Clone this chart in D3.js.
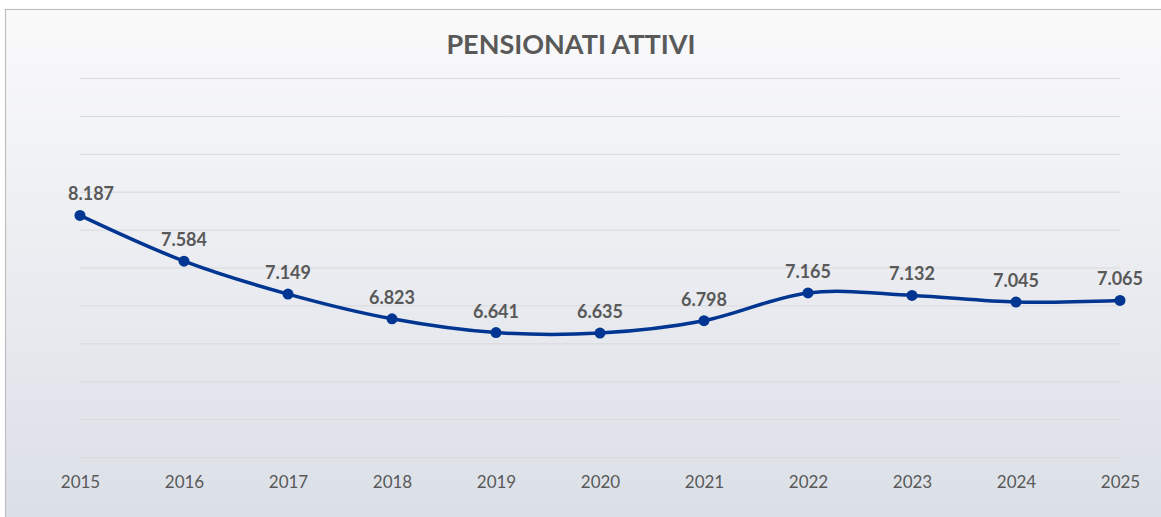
<!DOCTYPE html>
<meta charset="utf-8" />
<script src="https://d3js.org/d3.v7.min.js"></script>
<style>
  html, body { margin: 0; padding: 0; background: #fff; overflow: hidden; }
  .grid line { stroke: #d9d9d9; stroke-width: 1; }
  .grid path { display: none; }
  .xaxis path, .xaxis line { display: none; }
  .xaxis text { font-family: Lato, "Open Sans", sans-serif; font-size: 17px; fill: #595959; }
</style>
<div id="chart"></div>
<script>
  // data
  var years = ["2015", "2016", "2017", "2018", "2019", "2020", "2021", "2022", "2023", "2024", "2025"];
  var values = [8.187, 7.584, 7.149, 6.823, 6.641, 6.635, 6.798, 7.165, 7.132, 7.045, 7.065];
  var yTicks = [5, 5.5, 6, 6.5, 7, 7.5, 8, 8.5, 9, 9.5, 10];

  var W = 1161, H = 517;
  var plot = { left: 80, right: 1120, top: 78, bottom: 457 };
  var labelMinX = 68; // labels are kept inside the plot area

  var svg = d3.select("#chart").append("svg")
    .attr("width", W)
    .attr("height", H);

  // background gradient
  var grad = svg.append("defs").append("linearGradient")
    .attr("id", "bg").attr("x1", 0).attr("y1", 0).attr("x2", 0).attr("y2", 1);
  grad.append("stop").attr("offset", "0%").attr("stop-color", "#fafafb");
  grad.append("stop").attr("offset", "100%").attr("stop-color", "#dadee6");

  svg.append("rect")
    .attr("x", 5.5).attr("y", 9.5)
    .attr("width", W + 10).attr("height", H + 10)
    .attr("fill", "url(#bg)")
    .attr("stroke", "#bfbfbf")
    .attr("stroke-width", 1.2);

  var x = d3.scalePoint().domain(years).range([plot.left, plot.right]);
  var y = d3.scaleLinear().domain([5, 10]).range([plot.bottom, plot.top]);

  // gridlines
  svg.append("g")
    .attr("class", "grid")
    .attr("transform", "translate(" + plot.left + ",0)")
    .call(d3.axisLeft(y).tickValues(yTicks).tickSize(-(plot.right - plot.left)).tickFormat(""));

  // x axis labels
  svg.append("g")
    .attr("class", "xaxis")
    .attr("transform", "translate(0," + plot.bottom + ")")
    .call(d3.axisBottom(x).tickSize(0).tickPadding(19));

  // title
  svg.append("text")
    .attr("x", 571).attr("y", 54)
    .attr("text-anchor", "middle")
    .style("font-family", "Lato, 'Open Sans', sans-serif")
    .style("font-weight", "bold")
    .style("font-size", "27px")
    .style("fill", "#595959")
    .text("PENSIONATI ATTIVI");

  var pts = years.map(function (yr, i) { return { year: yr, value: values[i] }; });

  var line = d3.line()
    .x(function (d) { return x(d.year); })
    .y(function (d) { return y(d.value); })
    .curve(d3.curveCatmullRom.alpha(0.5));

  svg.append("path")
    .datum(pts)
    .attr("d", line)
    .attr("fill", "none")
    .attr("stroke", "#003591")
    .attr("stroke-width", 3.5)
    .attr("stroke-linecap", "round");

  svg.append("g").selectAll("circle")
    .data(pts)
    .enter().append("circle")
    .attr("cx", function (d) { return x(d.year); })
    .attr("cy", function (d) { return y(d.value); })
    .attr("r", 5.5)
    .attr("fill", "#003591");

  var fmt = function (v) { return v.toFixed(3); };

  svg.append("g").selectAll("text")
    .data(pts)
    .enter().append("text")
    .attr("x", function (d) { return x(d.year); })
    .attr("y", function (d) { return y(d.value) - 15; })
    .attr("text-anchor", "middle")
    .style("font-family", "Lato, 'Open Sans', sans-serif")
    .style("font-weight", "bold")
    .style("font-size", "18px")
    .style("fill", "#595959")
    .text(function (d) { return fmt(d.value); })
    .each(function (d) {
      var w = this.getComputedTextLength();
      var cx = x(d.year);
      if (cx - w / 2 < labelMinX) d3.select(this).attr("x", labelMinX + w / 2);
    });
</script>
